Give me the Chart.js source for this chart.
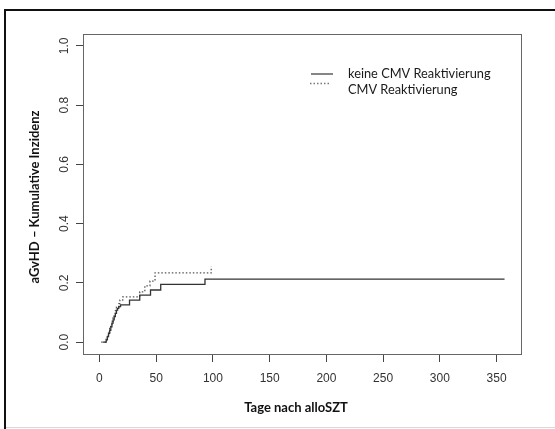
<!DOCTYPE html>
<html><head><meta charset="utf-8">
<script src="https://cdn.jsdelivr.net/npm/chart.js@4/dist/chart.umd.min.js"></script>
<style>html,body{margin:0;padding:0;background:#fff;overflow:hidden}#wrap{width:555px;height:429px;position:relative}</style>
</head><body><div id="wrap"><canvas id="c" width="555" height="429"></canvas></div>
<script>
const seriesNames = ['keine CMV Reaktivierung', 'CMV Reaktivierung'];
const timeNoCMV = [3, 6, 7, 8, 9, 10, 11, 12, 13, 14, 15, 16, 17, 18.6, 26.5, 35.5, 45, 54, 93, 357];
const incNoCMV  = [0, 0.008, 0.019, 0.03, 0.04, 0.052, 0.064, 0.075, 0.086, 0.097, 0.108, 0.114, 0.12, 0.126, 0.142, 0.159, 0.176, 0.195, 0.213, 0.213];
const timeCMV = [1.5, 6, 7, 8, 9, 10, 11, 12, 13, 14, 15, 17, 18, 20.5, 35.5, 40, 44.5, 49, 98.5];
const incCMV  = [0, 0.01, 0.022, 0.034, 0.046, 0.058, 0.07, 0.082, 0.094, 0.106, 0.118, 0.13, 0.142, 0.153, 0.17, 0.19, 0.206, 0.234, 0.255];
const xTickValues = [0, 50, 100, 150, 200, 250, 300, 350];
const yTickValues = [0, 0.2, 0.4, 0.6, 0.8, 1.0];
const yTickLabels = ['0.0', '0.2', '0.4', '0.6', '0.8', '1.0'];
const xTitle = 'Tage nach alloSZT';
const yTitle = 'aGvHD – Kumulative Inzidenz';

const toXY = (ts, vs) => ts.map((t, i) => ({x: t, y: vs[i]}));

const deco = {
  id: 'deco',
  afterDraw(chart) {
    const ctx = chart.ctx, a = chart.chartArea;
    const ys = chart.scales.y;
    ctx.save();
    // outer frame
    ctx.fillStyle = '#111';
    ctx.fillRect(4, 9, 2, 420);
    ctx.fillRect(4, 9, 551, 2);
    ctx.fillStyle = '#d8d8d8';
    ctx.fillRect(6, 427, 549, 1);
    // plot box
    ctx.strokeStyle = '#666';
    ctx.lineWidth = 1;
    ctx.strokeRect(a.left + 0.5, a.top + 0.5, a.right - a.left, a.bottom - a.top);
    // y tick labels (rotated)
    ctx.fillStyle = '#333';
    ctx.font = '12px "Liberation Sans", Arial, sans-serif';
    ctx.textAlign = 'center';
    ctx.textBaseline = 'middle';
    yTickValues.forEach((v, i) => {
      const py = ys.getPixelForValue(v);
      ctx.save();
      ctx.translate(65, py);
      ctx.rotate(-Math.PI / 2);
      ctx.fillText(yTickLabels[i], 0, 0);
      ctx.restore();
    });
    // axis titles
    ctx.fillStyle = '#111';
    ctx.font = 'bold 13px Lato, sans-serif';
    ctx.fillText(xTitle, 296, 408);
    ctx.save();
    ctx.translate(35, 197);
    ctx.rotate(-Math.PI / 2);
    ctx.fillText(yTitle, 0, 0);
    ctx.restore();
    // legend
    ctx.strokeStyle = '#444';
    ctx.lineWidth = 1.3;
    ctx.beginPath(); ctx.moveTo(311, 74); ctx.lineTo(333, 74); ctx.stroke();
    ctx.setLineDash([1.5, 2]);
    ctx.strokeStyle = '#777';
    ctx.beginPath(); ctx.moveTo(310, 83.5); ctx.lineTo(331, 83.5); ctx.stroke();
    ctx.setLineDash([]);
    ctx.fillStyle = '#1a1a1a';
    ctx.font = '12.8px Lato, sans-serif';
    ctx.textAlign = 'left';
    ctx.fillText(seriesNames[0], 348, 74);
    ctx.fillText(seriesNames[1], 348, 90);
    ctx.restore();
  }
};

new Chart(document.getElementById('c'), {
  type: 'line',
  data: {
    datasets: [
      {label: seriesNames[0], data: toXY(timeNoCMV, incNoCMV), stepped: 'before',
       borderColor: '#333', borderWidth: 1.3, pointRadius: 0, fill: false},
      {label: seriesNames[1], data: toXY(timeCMV, incCMV), stepped: 'before',
       borderColor: '#555', borderWidth: 1.3, borderDash: [1.5, 2], pointRadius: 0, fill: false}
    ]
  },
  options: {
    responsive: false, devicePixelRatio: 1, animation: false,
    layout: {padding: {left: 0, top: 34, right: 34, bottom: 0}},
    plugins: {legend: {display: false}, tooltip: {enabled: false}},
    scales: {
      x: {
        type: 'linear', min: -14.5, max: 371.5,
        afterBuildTicks: s => { s.ticks = xTickValues.map(v => ({value: v})); },
        afterFit: s => { s.height = 75; },
        grid: {drawOnChartArea: false, drawTicks: true, tickLength: 8, color: '#444'},
        border: {display: false},
        ticks: {color: '#333', font: {family: '"Liberation Sans", Arial, sans-serif', size: 12}, padding: 9, maxRotation: 0, autoSkip: false}
      },
      y: {
        type: 'linear', min: -0.04, max: 1.04,
        afterBuildTicks: s => { s.ticks = yTickValues.map(v => ({value: v})); },
        afterFit: s => { s.width = 83; },
        grid: {drawOnChartArea: false, drawTicks: true, tickLength: 7, color: '#444'},
        border: {display: false},
        ticks: {color: 'rgba(0,0,0,0)', autoSkip: false}
      }
    }
  },
  plugins: [deco]
});
</script>
</body></html>
